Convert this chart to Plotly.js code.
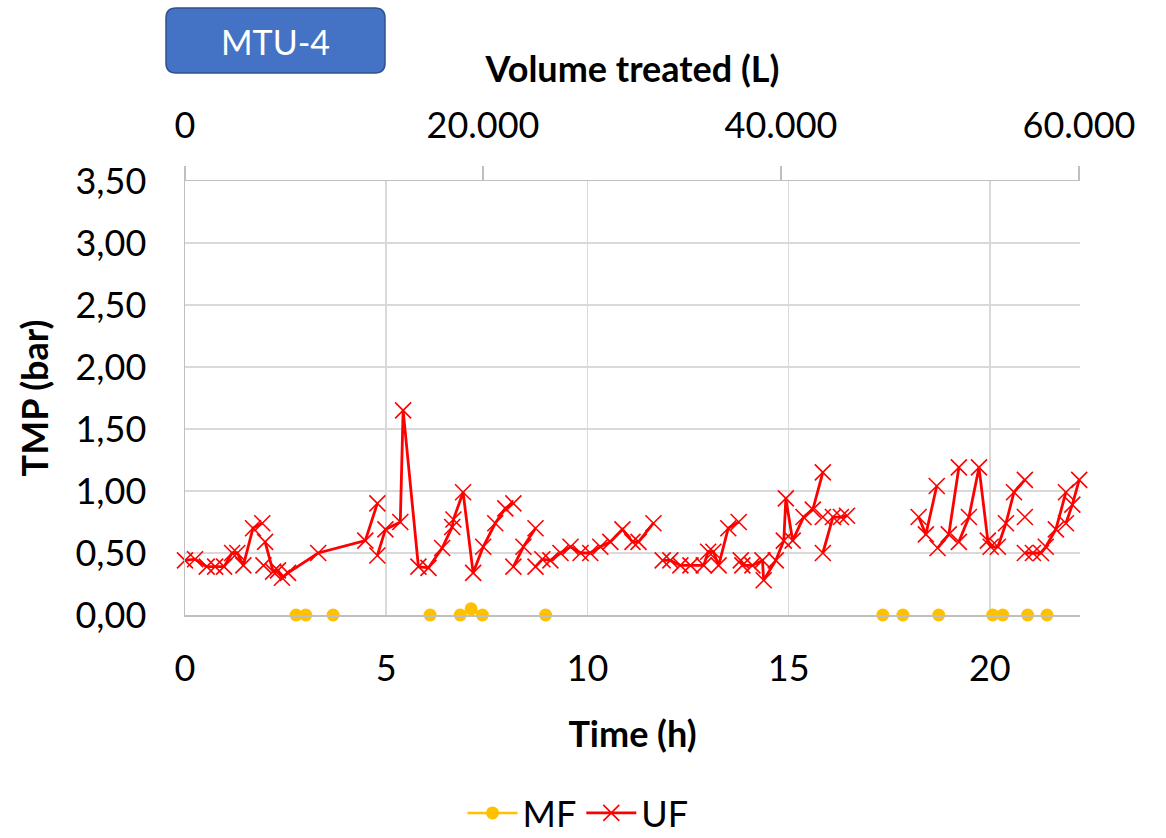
<!DOCTYPE html>
<html>
<head>
<meta charset="utf-8">
<script src="https://cdn.plot.ly/plotly-3.0.1.min.js"></script>
<style>html,body{margin:0;padding:0;background:#fff;}#chart{width:1166px;height:838px;}</style>
</head>
<body>
<div id="chart"></div>
<script>
// ---- data ----
const UF_TIME = [
  0, 0.25, 0.54, 0.75, 0.97, 1.17, 1.3, 1.45, 1.69, 1.92, null,
  1.95, null,
  1.99, 2.19, 2.31, 2.41, 2.56, 3.31, 4.48, 4.78, null,
  4.78, 4.98, 5.35, 5.42, 5.8, 6.05, 6.39, 6.64, 6.67, 6.91, 7.16, 7.41, 7.71, 7.96, 8.16, null,
  8.16, 8.41, 8.71, null,
  8.71, 8.88, 9.08, 9.33, 9.58, 9.83, 10.07, 10.32, 10.57, 10.87, 11.12, 11.27, 11.64, null,
  11.87, 12.06, 12.31, 12.56, 12.89, 13.0, 13.13, 13.26, 13.5, 13.76, null,
  13.81, 13.85, 14.1, 14.35, 14.38, 14.68, 14.88, 14.93, 15.1, 15.37, 15.6, 15.85, null,
  15.85, null,
  15.85, 16.1, 16.3, 16.45, null,
  18.23, 18.41, 18.68, null,
  18.7, 18.98, 19.23, null,
  19.23, 19.48, 19.73, 19.95, 20.02, 20.2, 20.4, 20.6, 20.87, null,
  20.87, null,
  20.87, 21.07, 21.27, 21.39, 21.64, 21.89, null,
  21.89, 22.05, 22.22
];
const UF_TMP = [
  0.44, 0.45, 0.39, 0.39, 0.39, 0.50, 0.50, 0.40, 0.70, 0.74, null,
  0.40, null,
  0.59, 0.35, 0.36, 0.30, 0.34, 0.50, 0.60, 0.90, null,
  0.48, 0.69, 0.75, 1.65, 0.39, 0.38, 0.54, 0.71, 0.77, 0.99, 0.34, 0.55, 0.74, 0.86, 0.90, null,
  0.39, 0.55, 0.70, null,
  0.39, 0.45, 0.44, 0.50, 0.55, 0.50, 0.50, 0.55, 0.59, 0.69, 0.59, 0.59, 0.74, null,
  0.44, 0.44, 0.40, 0.40, 0.40, 0.51, 0.51, 0.40, 0.70, 0.75, null,
  0.44, 0.40, 0.40, 0.44, 0.28, 0.44, 0.60, 0.94, 0.60, 0.79, 0.85, 1.15, null,
  0.79, null,
  0.50, 0.79, 0.79, 0.80, null,
  0.79, 0.65, 1.04, null,
  0.54, 0.65, 1.19, null,
  0.59, 0.79, 1.19, 0.60, 0.55, 0.55, 0.74, 0.99, 1.09, null,
  0.79, null,
  0.50, 0.50, 0.50, 0.55, 0.69, 0.99, null,
  0.74, 0.89, 1.09
];
const MF_TIME = [2.76, 3.0, null, 3.68, null, 6.09, null, 6.84, 7.11, 7.39, null, 8.96, null,
                 17.34, null, 17.84, null, 18.73, null, 20.07, 20.32, null, 20.94, null, 21.42];
const MF_TMP  = [0, 0, null, 0, null, 0, null, 0, 0.05, 0, null, 0, null,
                 0, null, 0, null, 0, null, 0, 0, null, 0, null, 0];
const TIME_TICKS = [0, 5, 10, 15, 20];
const VOLUME_TICKS = [0, 20000, 40000, 60000];
const SERIES_NAMES = ['MF', 'UF'];
const BADGE_TEXT = 'MTU-4';

// ---- chart ----
const FONT = 'Lato, "Liberation Sans", sans-serif';
const GRID = '#d9d9d9';
const AXIS = '#bfbfbf';

const traces = [
  {
    x: MF_TIME, y: MF_TMP, name: SERIES_NAMES[0], type: 'scatter', mode: 'lines+markers',
    line: {color: '#FFC000', width: 2.5},
    marker: {symbol: 'circle', size: 13, color: '#FFC000'},
    cliponaxis: false, connectgaps: false
  },
  {
    x: UF_TIME, y: UF_TMP, name: SERIES_NAMES[1], type: 'scatter', mode: 'lines+markers',
    line: {color: '#FF0000', width: 2.8},
    marker: {symbol: 'x-thin', size: 16, color: '#FF0000', line: {color: '#FF0000', width: 1.6}},
    cliponaxis: false, connectgaps: false
  },
  {
    x: [VOLUME_TICKS[0]], y: [null], xaxis: 'x2', yaxis: 'y', type: 'scatter', mode: 'markers',
    showlegend: false, hoverinfo: 'skip'
  }
];

const L = 185, R = 1080, T = 181, B = 615;
const pw = R - L, ph = B - T;
const px = v => (v - L) / pw;
const py = v => (B - v) / ph;

// rounded badge box (paper coords)
const bx0 = px(166), bx1 = px(385), byT = py(8), byB = py(73);
const rx = 10 / pw, ry = 10 / ph;
const badgePath = `M ${bx0 + rx} ${byT} L ${bx1 - rx} ${byT} Q ${bx1} ${byT} ${bx1} ${byT - ry} ` +
  `L ${bx1} ${byB + ry} Q ${bx1} ${byB} ${bx1 - rx} ${byB} L ${bx0 + rx} ${byB} ` +
  `Q ${bx0} ${byB} ${bx0} ${byB + ry} L ${bx0} ${byT - ry} Q ${bx0} ${byT} ${bx0 + rx} ${byT} Z`;

const layout = {
  width: 1166, height: 838,
  margin: {l: L, r: 1166 - R, t: T, b: 838 - B, pad: 0, autoexpand: false},
  paper_bgcolor: '#ffffff', plot_bgcolor: '#ffffff',
  separators: ',.',
  font: {family: FONT, size: 36, color: '#000000'},
  showlegend: true,
  legend: {
    orientation: 'h', x: px(578), xanchor: 'center', y: py(813), yanchor: 'middle',
    font: {family: FONT, size: 36, color: '#000000'}, itemwidth: 50, bgcolor: 'rgba(0,0,0,0)'
  },
  xaxis: {
    range: [0, 22.24], tickvals: TIME_TICKS, ticktext: TIME_TICKS.map(String),
    showgrid: true, gridcolor: GRID, gridwidth: 1.5, zeroline: false,
    showline: true, linecolor: AXIS, linewidth: 1.5, ticks: '',
    tickfont: {family: FONT, size: 36, color: '#000'}, ticklabelstandoff: 21,
    title: {text: '<b>Time (h)</b>', font: {family: FONT, size: 36, color: '#000'}, standoff: 34}
  },
  xaxis2: {
    overlaying: 'x', side: 'top', range: [0, 60067], tickvals: VOLUME_TICKS, tickformat: ',d',
    showgrid: false, zeroline: false, showline: true, linecolor: AXIS, linewidth: 1.5,
    ticks: 'outside', ticklen: 14, tickwidth: 1.5, tickcolor: AXIS,
    tickfont: {family: FONT, size: 36, color: '#000'}, ticklabelstandoff: 13,
    title: {text: '<b>Volume treated (L)</b>', font: {family: FONT, size: 36, color: '#000'}, standoff: 8}
  },
  yaxis: {
    range: [0, 3.5], dtick: 0.5, tick0: 0, tickformat: '.2f',
    showgrid: true, gridcolor: GRID, gridwidth: 1.5, zeroline: false,
    showline: true, linecolor: AXIS, linewidth: 1.5, ticks: '',
    tickfont: {family: FONT, size: 36, color: '#000'}, ticklabelstandoff: 30,
    title: {text: '<b>TMP (bar)</b>', font: {family: FONT, size: 36, color: '#000'}, standoff: 16}
  },
  shapes: [{
    type: 'path', xref: 'paper', yref: 'paper', path: badgePath,
    fillcolor: '#4472C4', line: {color: '#2F528F', width: 1.5}, layer: 'above'
  }],
  annotations: [{
    xref: 'paper', yref: 'paper', x: px(275.5), y: py(41), xanchor: 'center', yanchor: 'middle',
    text: BADGE_TEXT, showarrow: false, font: {family: FONT, size: 34, color: '#ffffff'}
  }]
};

Plotly.newPlot('chart', traces, layout, {displayModeBar: false, staticPlot: true});
</script>
</body>
</html>
